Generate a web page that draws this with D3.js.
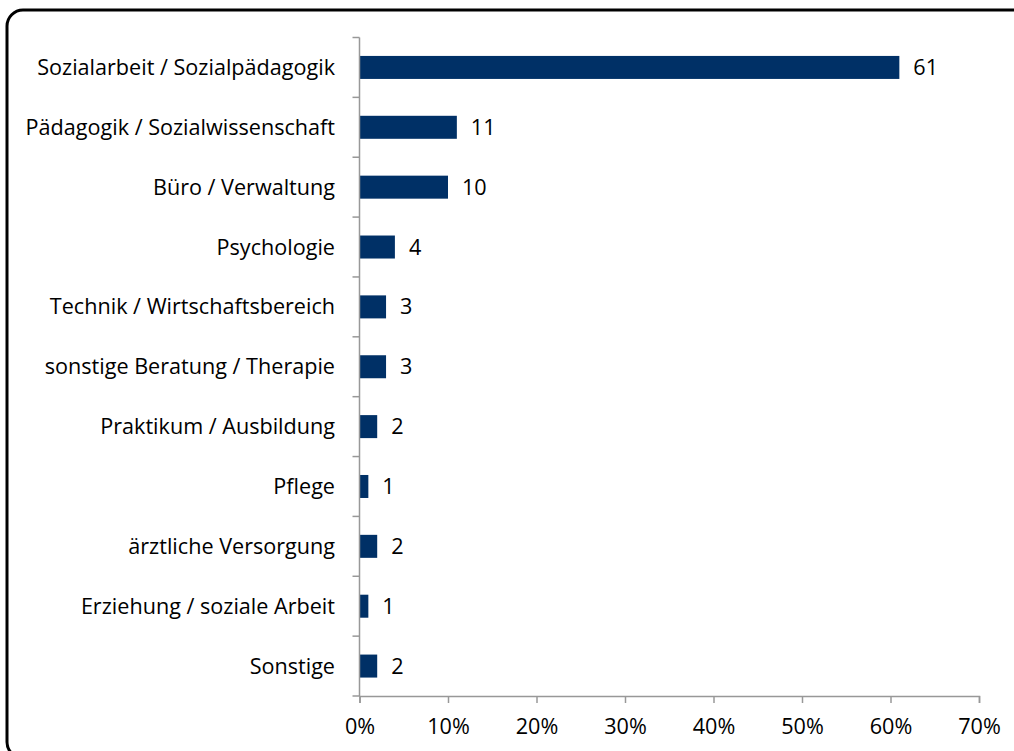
<!doctype html>
<html>
<head>
    <meta charset="utf-8">
    <title>Berufsfelder</title>
    <script src="https://d3js.org/d3.v7.min.js"></script>
    <style type="text/css">
        html, body { margin: 0; background: #fff; }
        text { font-family: "Open Sans", "Noto Sans", sans-serif; fill: #000; }
    </style>
</head>
<body>
    <svg id="chart" width="1014" height="751"></svg>

    <script type="text/javascript">
        var categories = [
            "Sozialarbeit / Sozialpädagogik",
            "Pädagogik / Sozialwissenschaft",
            "Büro / Verwaltung",
            "Psychologie",
            "Technik / Wirtschaftsbereich",
            "sonstige Beratung / Therapie",
            "Praktikum / Ausbildung",
            "Pflege",
            "ärztliche Versorgung",
            "Erziehung / soziale Arbeit",
            "Sonstige"
        ];
        var values = [61, 11, 10, 4, 3, 3, 2, 1, 2, 1, 2];
        var xTicks = [0, 10, 20, 30, 40, 50, 60, 70];

        var svg = d3.select("#chart");
        var fontSize = "21.6px";
        var axisColor = "#989898";

        // frame (runs off the right and bottom edges)
        svg.append("rect")
            .attr("x", 7).attr("y", 10)
            .attr("width", 1030).attr("height", 748)
            .attr("rx", 16).attr("ry", 16)
            .style("fill", "none")
            .style("stroke", "#000")
            .style("stroke-width", 3);

        var x = d3.scaleLinear().domain([0, 70]).range([359.5, 979]);
        var band = d3.scaleBand().domain(categories).range([37.5, 696]);

        // bars
        svg.selectAll(".bar")
            .data(categories)
            .enter()
            .append("rect")
            .attr("class", "bar")
            .attr("x", x(0))
            .attr("y", function(d) { return band(d) + band.bandwidth() / 2 - 11.5; })
            .attr("width", function(d, i) { return x(values[i]) - x(0); })
            .attr("height", 23)
            .style("fill", "#003066");

        // value labels
        svg.selectAll(".val")
            .data(categories)
            .enter()
            .append("text")
            .attr("class", "val")
            .attr("x", function(d, i) { return x(values[i]) + 14; })
            .attr("y", function(d) { return band(d) + band.bandwidth() / 2; })
            .attr("dy", "0.35em")
            .style("font-size", fontSize)
            .text(function(d, i) { return values[i]; });

        // y axis line + ticks at band boundaries
        var yAxis = svg.append("g");
        yAxis.append("line")
            .attr("x1", x(0)).attr("x2", x(0))
            .attr("y1", 37.5).attr("y2", 696)
            .style("stroke", axisColor).style("stroke-width", 1.5);
        var bounds = categories.map(function(d) { return band(d); }).concat([696]);
        yAxis.selectAll(".yt")
            .data(bounds)
            .enter()
            .append("line")
            .attr("x1", x(0) - 7).attr("x2", x(0))
            .attr("y1", function(d) { return d; }).attr("y2", function(d) { return d; })
            .style("stroke", axisColor).style("stroke-width", 1.5);

        // category labels
        svg.selectAll(".cat")
            .data(categories)
            .enter()
            .append("text")
            .attr("class", "cat")
            .attr("x", 335)
            .attr("y", function(d) { return band(d) + band.bandwidth() / 2; })
            .attr("dy", "0.35em")
            .attr("text-anchor", "end")
            .style("font-size", fontSize)
            .text(function(d) { return d; });

        // x axis
        var xAxis = svg.append("g")
            .attr("transform", "translate(0,696)")
            .call(d3.axisBottom(x).tickValues(xTicks).tickSize(7).tickPadding(16)
                .tickFormat(function(d) { return d + "%"; }));
        xAxis.select(".domain").style("stroke", axisColor).style("stroke-width", 1.5);
        xAxis.selectAll(".tick line").style("stroke", axisColor).style("stroke-width", 1.5);
        xAxis.selectAll(".tick text").style("font-size", fontSize).style("font-family", "'Open Sans', sans-serif");
    </script>
</body>
</html>
